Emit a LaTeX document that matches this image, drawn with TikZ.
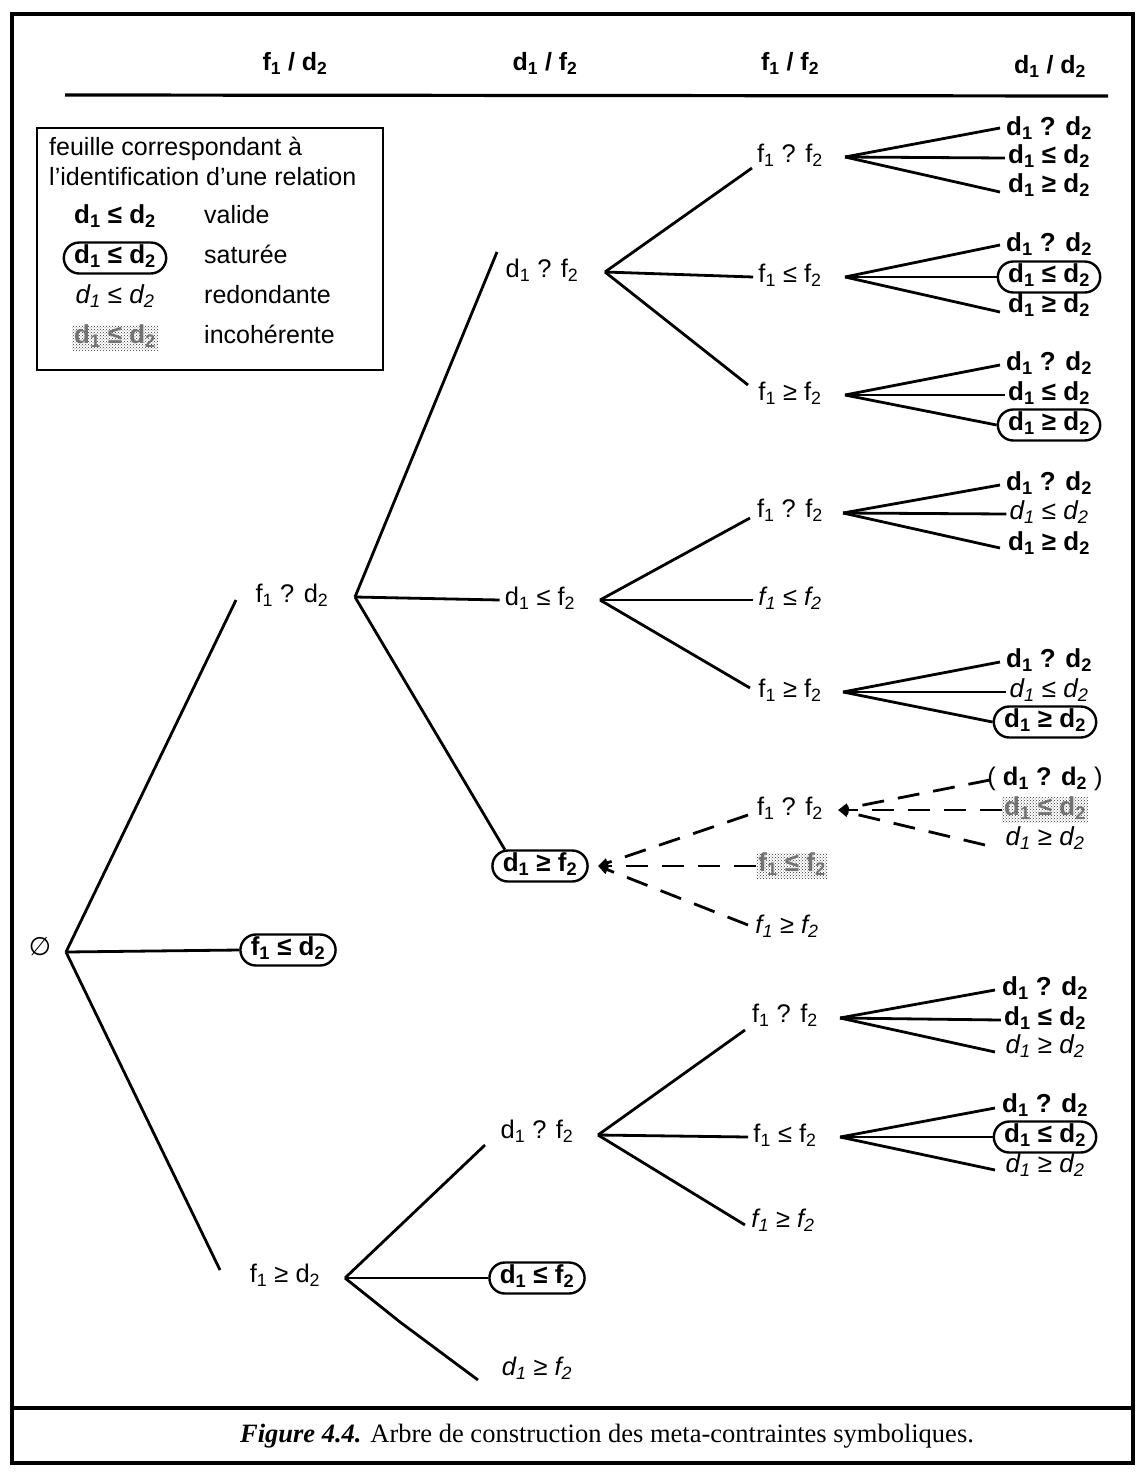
\documentclass[tikz,border=0pt]{standalone}
\usepackage{fontspec}
\setmainfont{Liberation Sans}
\newfontfamily\capfont{Liberation Serif}
\newfontfamily\djv{DejaVu Sans}
\usetikzlibrary{arrows.meta,shapes.misc,patterns,calc}
\newcommand\sbs[1]{\textsubscript{#1}}
\begin{document}
\begin{tikzpicture}[x=1pt,y=-1pt,
  every node/.style={inner sep=2pt, text height=18pt, text depth=7pt},
  lbl/.style={font=\fontsize{25.5}{29}\selectfont, inner xsep=5pt},
  rlbl/.style={font=\fontsize{25.5}{29}\selectfont\itshape, inner xsep=5pt},
  hd/.style={font=\fontsize{25}{29}\selectfont\bfseries},
  lg/.style={font=\fontsize{25}{29}\selectfont, inner sep=0pt},
  bl/.style={font=\fontsize{26}{30}\selectfont\bfseries, inner xsep=3pt},
  il/.style={font=\fontsize{26}{30}\selectfont\itshape, inner xsep=3pt},
  sat/.style={bl, rounded rectangle, draw, line width=2.4pt, inner xsep=4pt, inner ysep=3pt},
  inc/.style={bl, pattern=crosshatch dots, pattern color=black!80, text=black!55, inner xsep=2pt, inner ysep=0pt},
  edge/.style={line width=2.8pt},
  dedge/.style={line width=2.8pt, dash pattern=on 22pt off 14pt, -{Triangle[length=10pt,width=9pt]}},
  frame/.style={line width=4.5pt}]
\useasboundingbox (0,0) rectangle (1138,1474);
% frame
\draw[frame] (12,14) rectangle (1133,1463);
\draw[line width=3.5pt] (12,1408) -- (1133,1408);
\node[font=\capfont\fontsize{26.5}{30}\selectfont] (cap) at (607,1437) {\textbf{\textit{Figure 4.4.}} Arbre de construction des meta-contraintes symboliques.};
% header
\node[hd] (h1) at (295,65) {f\sbs{1} / d\sbs{2}};
\node[hd] (h2) at (545,65) {d\sbs{1} / f\sbs{2}};
\node[hd] (h3) at (790,65) {f\sbs{1} / f\sbs{2}};
\node[hd] (h4) at (1050,68) {d\sbs{1} / d\sbs{2}};
\draw[line width=3.2pt] (65,95) -- (1108,96);
% legend
\draw[line width=2.8pt] (37,128) rectangle (383,370);
\node[lg, anchor=west] (lg1) at (49,150) {feuille correspondant à};
\node[lg, anchor=west] (lg2) at (49,180) {l'identification d'une relation};
\node[bl] (k1) at (115,218) {d\sbs{1} ≤ d\sbs{2}};
\node[sat] (k2) at (115,258) {d\sbs{1} ≤ d\sbs{2}};
\node[il] (k3) at (115,298) {d\sbs{1} ≤ d\sbs{2}};
\node[inc] (k4) at (115,338) {d\sbs{1} ≤ d\sbs{2}};
\node[lg, anchor=west] (t1) at (204,218) {valide};
\node[lg, anchor=west] (t2) at (204,258) {saturée};
\node[lg, anchor=west] (t3) at (204,298) {redondante};
\node[lg, anchor=west] (t4) at (204,338) {incohérente};
% root
\node[lbl] (R) at (40,950) {\djv ∅};
\coordinate (Ro) at (66,952);
% level 1
\node[lbl] (A) at (292,597) {f\sbs{1} ? d\sbs{2}};
\node[sat] (B) at (288,950) {f\sbs{1} ≤ d\sbs{2}};
\node[lbl] (C) at (285,1277) {f\sbs{1} ≥ d\sbs{2}};
\coordinate (Ao) at (355,597);
\coordinate (Co) at (345,1278);
\draw[edge] (Ro) -- (236,600) coordinate (Ai);
\draw[edge] (Ro) -- (B.west);
\draw[edge] (Ro) -- (220,1270) coordinate (Ci);
% level 2
\node[lbl] (A1) at (542,272) {d\sbs{1} ? f\sbs{2}};
\node[lbl] (A2) at (540,600) {d\sbs{1} ≤ f\sbs{2}};
\node[sat] (A3) at (540,866) {d\sbs{1} ≥ f\sbs{2}};
\node[lbl] (C1) at (537,1133) {d\sbs{1} ? f\sbs{2}};
\node[sat] (C2) at (537,1278) {d\sbs{1} ≤ f\sbs{2}};
\node[rlbl] (C3) at (537,1370) {d\sbs{1} ≥ f\sbs{2}};
\draw[edge] (Ao) -- (497,252);
\draw[edge] (Ao) -- (A2.west);
\draw[edge] (Ao) -- (A3.155);
\draw[edge] (Co) -- (485,1145);
\draw[edge] (Co) -- (C2.west);
\coordinate (Ck) at (400,1322);
\draw[edge] (Co) -- (Ck) -- (478,1380);
\coordinate (A1o) at (605,272);
\coordinate (A2o) at (600,600);
\coordinate (A3o) at (598,866);
\coordinate (C1o) at (598,1135);
% level 3
\node[lbl] (A11) at (790,157) {f\sbs{1} ? f\sbs{2}};
\node[lbl] (A12) at (790,277) {f\sbs{1} ≤ f\sbs{2}};
\node[lbl] (A13) at (790,395) {f\sbs{1} ≥ f\sbs{2}};
\node[lbl] (A21) at (790,512) {f\sbs{1} ? f\sbs{2}};
\node[rlbl] (A22) at (790,600) {f\sbs{1} ≤ f\sbs{2}};
\node[lbl] (A23) at (790,692) {f\sbs{1} ≥ f\sbs{2}};
\node[lbl] (A31) at (790,810) {f\sbs{1} ? f\sbs{2}};
\node[inc] (A32) at (792,866) {f\sbs{1} ≤ f\sbs{2}};
\node[rlbl] (A33) at (787,928) {f\sbs{1} ≥ f\sbs{2}};
\node[lbl] (C11) at (785,1017) {f\sbs{1} ? f\sbs{2}};
\node[lbl] (C12) at (785,1137) {f\sbs{1} ≤ f\sbs{2}};
\node[rlbl] (C13) at (783,1222) {f\sbs{1} ≥ f\sbs{2}};
\draw[edge] (A1o) -- (752,168);
\draw[edge] (A1o) -- (A12.west);
\draw[edge] (A1o) -- (748,385);
\draw[edge] (A2o) -- (750,518);
\draw[edge] (A2o) -- (A22.west);
\draw[edge] (A2o) -- (750,688);
\draw[dedge] (748,815) -- (A3o);
\draw[dedge] (A32.west) -- (A3o);
\draw[dedge] (748,925) -- (A3o);
\draw[edge] (C1o) -- (745,1030);
\draw[edge] (C1o) -- (C12.west);
\draw[edge] (C1o) -- (745,1225);
% level 3 apexes
\coordinate (A11o) at (845,157);
\coordinate (A12o) at (845,277);
\coordinate (A13o) at (845,395);
\coordinate (A21o) at (843,513);
\coordinate (A23o) at (843,692);
\coordinate (A31o) at (838,810);
\coordinate (C11o) at (840,1018);
\coordinate (C12o) at (840,1137);
% leaves
\node[bl] (L1a) at (1049,130) {d\sbs{1} ? d\sbs{2}};
\node[bl] (L1b) at (1049,158) {d\sbs{1} ≤ d\sbs{2}};
\node[bl] (L1c) at (1049,187) {d\sbs{1} ≥ d\sbs{2}};
\node[bl] (L2a) at (1049,246) {d\sbs{1} ? d\sbs{2}};
\node[bl] (L2c) at (1049,307) {d\sbs{1} ≥ d\sbs{2}};
\node[sat] (L2b) at (1049,277) {d\sbs{1} ≤ d\sbs{2}};
\node[bl] (L3a) at (1049,365) {d\sbs{1} ? d\sbs{2}};
\node[bl] (L3b) at (1049,395) {d\sbs{1} ≤ d\sbs{2}};
\node[sat] (L3c) at (1049,425) {d\sbs{1} ≥ d\sbs{2}};
\node[bl] (L4a) at (1049,485) {d\sbs{1} ? d\sbs{2}};
\node[il] (L4b) at (1049,514) {d\sbs{1} ≤ d\sbs{2}};
\node[bl] (L4c) at (1049,545) {d\sbs{1} ≥ d\sbs{2}};
\node[bl] (L5a) at (1049,662) {d\sbs{1} ? d\sbs{2}};
\node[il] (L5b) at (1049,692) {d\sbs{1} ≤ d\sbs{2}};
\node[sat] (L5c) at (1045,722) {d\sbs{1} ≥ d\sbs{2}};
\node[lbl, inner xsep=2pt] (L6a) at (1045,780) {( \textbf{d\sbs{1} ? d\sbs{2}} )};
\node[inc] (L6b) at (1045,810) {d\sbs{1} ≤ d\sbs{2}};
\node[il] (L6c) at (1045,840) {d\sbs{1} ≥ d\sbs{2}};
\node[bl] (L7a) at (1045,990) {d\sbs{1} ? d\sbs{2}};
\node[bl] (L7b) at (1045,1020) {d\sbs{1} ≤ d\sbs{2}};
\node[il] (L7c) at (1045,1048) {d\sbs{1} ≥ d\sbs{2}};
\node[bl] (L8a) at (1045,1107) {d\sbs{1} ? d\sbs{2}};
\node[il] (L8c) at (1045,1167) {d\sbs{1} ≥ d\sbs{2}};
\node[sat] (L8b) at (1045,1137) {d\sbs{1} ≤ d\sbs{2}};
% leaf edges
\draw[edge] (A11o) -- (1000,128);
\draw[edge] (A11o) -- (L1b.west);
\draw[edge] (A11o) -- (1000,192);
\draw[edge] (A12o) -- (1000,245);
\draw[edge] (A12o) -- (L2b.west);
\draw[edge] (A12o) -- (1000,312);
\draw[edge] (A13o) -- (1000,365);
\draw[edge] (A13o) -- (L3b.west);
\draw[edge] (A13o) -- (L3c.west);
\draw[edge] (A21o) -- (1000,485);
\draw[edge] (A21o) -- (L4b.west);
\draw[edge] (A21o) -- (1000,548);
\draw[edge] (A23o) -- (1000,662);
\draw[edge] (A23o) -- (L5b.west);
\draw[edge] (A23o) -- (L5c.west);
\draw[dedge] (990,780) -- (A31o);
\draw[dedge] (L6b.west) -- (A31o);
\draw[dedge] (985,845) -- (A31o);
\draw[edge] (C11o) -- (995,990);
\draw[edge] (C11o) -- (L7b.west);
\draw[edge] (C11o) -- (995,1052);
\draw[edge] (C12o) -- (995,1108);
\draw[edge] (C12o) -- (L8b.west);
\draw[edge] (C12o) -- (995,1170);
\end{tikzpicture}
\end{document}
